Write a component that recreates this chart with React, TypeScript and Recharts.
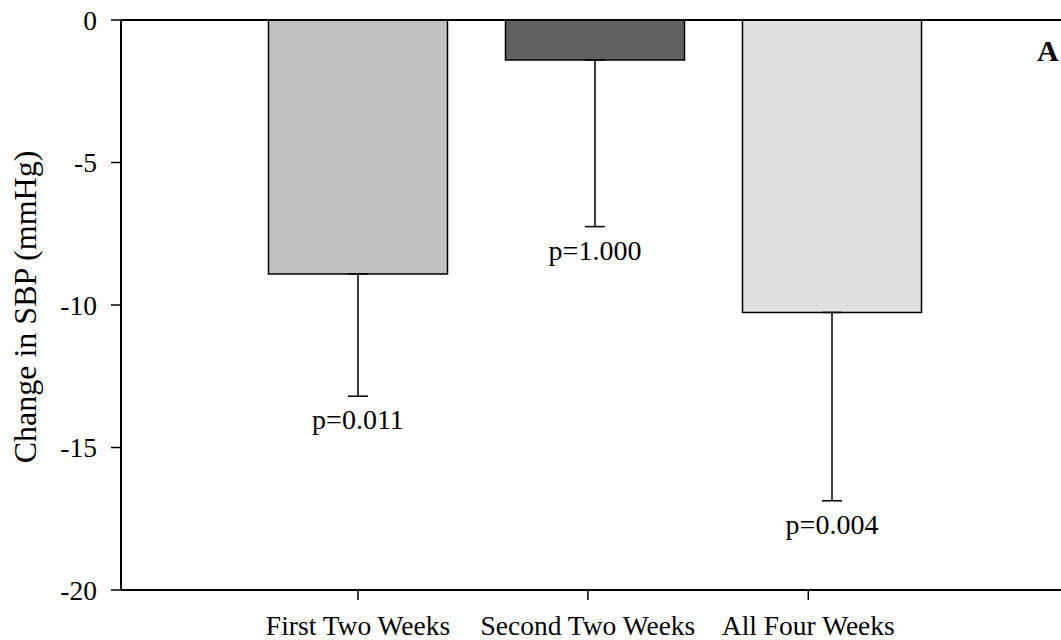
import React from 'react';
import { BarChart, Bar, XAxis, YAxis, ErrorBar, ReferenceLine, ReferenceDot, Cell, Label } from 'recharts';

const categories = ['First Two Weeks', 'Second Two Weeks', 'All Four Weeks'];
const barPositions = [1, 2, 3];
const changeSBP = [-8.91, -1.4, -10.26];
const errorDown = [4.29, 5.85, 6.61];
const pValues = ['p=0.011', 'p=1.000', 'p=0.004'];
const barColors = ['#c0c0c0', '#606060', '#e0e0e0'];
const labelTickPositions = [1, 1.97, 2.9];
const yTicks = [0, -5, -10, -15, -20];

const data = categories.map((name, i) => ({
  name,
  pos: barPositions[i],
  value: changeSBP[i],
  err: [errorDown[i], 0],
  end: changeSBP[i] - errorDown[i],
  p: pValues[i],
}));

const FONT = '"Liberation Serif", "Times New Roman", serif';

export default function App() {
  return (
    <div style={{ position: 'absolute', left: 0, top: 0, width: 1061, height: 640, overflow: 'hidden', background: '#fff' }}>
      <BarChart width={1069} height={640} data={data} margin={{ top: 20, right: 0, bottom: 0, left: 0 }}>
        <XAxis
          dataKey="pos"
          type="number"
          domain={[0, 4]}
          ticks={labelTickPositions}
          tickFormatter={(v: number) => categories[labelTickPositions.indexOf(v)] ?? ''}
          height={50}
          tickSize={10}
          tickMargin={15}
          axisLine={{ stroke: '#000', strokeWidth: 2 }}
          tickLine={{ stroke: '#000', strokeWidth: 1.5 }}
          tick={{ fill: '#000', fontSize: 27.5, fontFamily: FONT }}
          interval={0}
        />
        <YAxis
          domain={[-20, 0]}
          ticks={yTicks}
          width={121}
          tickSize={10}
          tickMargin={14}
          axisLine={{ stroke: '#000', strokeWidth: 2 }}
          tickLine={{ stroke: '#000', strokeWidth: 1.5 }}
          tick={{ fill: '#000', fontSize: 27.5, fontFamily: FONT }}
        >
          <Label value="Change in SBP (mmHg)" angle={-90} position="center" dx={-36} dy={2} style={{ fill: '#000', fontSize: 32, fontFamily: FONT }} />
        </YAxis>
        <ReferenceLine y={0} stroke="#000" strokeWidth={2} />
        <Bar dataKey="value" barSize={179} stroke="#000" strokeWidth={1.5} isAnimationActive={false}>
          {data.map((d, i) => (
            <Cell key={d.name} fill={barColors[i]} />
          ))}
          <ErrorBar dataKey="err" width={10} stroke="#000" strokeWidth={1.5} isAnimationActive={false} />
        </Bar>
        {data.map((d) => (
          <ReferenceDot
            key={d.p}
            x={d.pos}
            y={d.end}
            r={0}
            stroke="none"
            fill="none"
            label={{ value: d.p, position: 'bottom', offset: 13, fill: '#000', fontSize: 28, fontFamily: FONT }}
          />
        ))}
      </BarChart>
      <svg width={1061} height={640} style={{ position: 'absolute', left: 0, top: 0, pointerEvents: 'none' }}>
        <text x={1037} y={61} fontFamily={FONT} fontWeight="bold" fontSize={30} fill="#000">A</text>
      </svg>
    </div>
  );
}
